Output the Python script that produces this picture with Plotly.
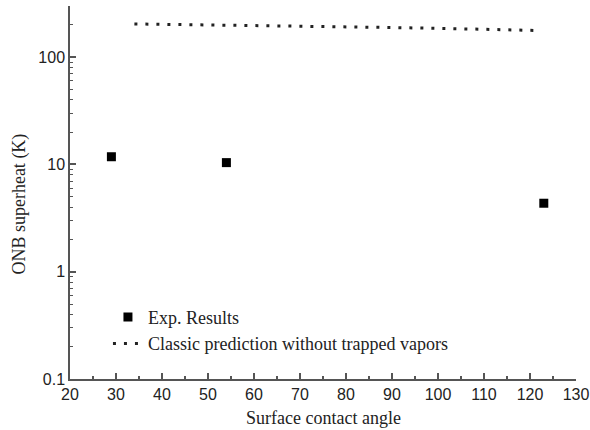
import plotly.graph_objects as go

exp_angle = [29, 54, 123]
exp_superheat = [11.8, 10.4, 4.35]

pred_angle = [34, 50, 70, 90, 110, 122]
pred_superheat = [204, 200, 195, 189, 182, 177]

x_ticks = [20, 30, 40, 50, 60, 70, 80, 90, 100, 110, 120, 130]
y_ticks = [0.1, 1, 10, 100]
y_tick_text = ["0.1", "1", "10", "100"]
y_minor = [m * 10 ** e for e in (-1, 0, 1, 2) for m in range(2, 10) if m * 10 ** e < 300]

axis_col = "#555555"
txt_col = "#222222"
tick_font = dict(family="Liberation Sans, Arial, sans-serif", size=16, color=txt_col)
serif = "Liberation Serif, Times New Roman, serif"

fig = go.Figure()
fig.add_trace(go.Scatter(
    x=exp_angle, y=exp_superheat, mode="markers", name="Exp. Results",
    marker=dict(symbol="square", size=9, color="black"),
))
fig.add_trace(go.Scatter(
    x=pred_angle, y=pred_superheat, mode="lines",
    name="Classic prediction without trapped vapors",
    line=dict(color="#222222", width=3, dash="3px,8px"),
))

fig.update_layout(
    width=590, height=430,
    margin=dict(l=70, r=14, t=6, b=51),
    paper_bgcolor="white", plot_bgcolor="white",
    showlegend=True,
    legend=dict(x=0.075, y=0.215, xanchor="left", yanchor="top",
                font=dict(family=serif, size=18, color=txt_col),
                bgcolor="rgba(0,0,0,0)", tracegroupgap=4),
    xaxis=dict(
        range=[20, 130], tickvals=x_ticks, showgrid=False, zeroline=False,
        showline=True, linecolor=axis_col, linewidth=1.5,
        ticks="inside", ticklen=6, tickwidth=1.5, tickcolor=axis_col,
        tickfont=tick_font, automargin=False,
        minor=dict(tickvals=[25, 35, 45, 55, 65, 75, 85, 95, 105, 115, 125],
                   ticks="inside", ticklen=3, tickwidth=1.5, tickcolor=axis_col),
    ),
    yaxis=dict(
        type="log", range=[-1, 2.477], tickvals=y_ticks, ticktext=y_tick_text,
        showgrid=False, zeroline=False,
        showline=True, linecolor=axis_col, linewidth=1.5,
        ticks="inside", ticklen=6, tickwidth=1.5, tickcolor=axis_col,
        tickfont=tick_font, automargin=False,
        minor=dict(tickvals=y_minor, ticks="inside", ticklen=3, tickwidth=1.2, tickcolor=axis_col),
    ),
    annotations=[
        dict(text="Surface contact angle", xref="paper", yref="paper",
             x=0.5, y=-0.105, xanchor="center", yanchor="middle", showarrow=False,
             font=dict(family=serif, size=18, color=txt_col)),
        dict(text="ONB superheat (K)", xref="paper", yref="paper",
             x=-0.099, y=0.47, xanchor="center", yanchor="middle", showarrow=False,
             textangle=-90, font=dict(family=serif, size=18, color=txt_col)),
    ],
)

fig.write_html("out.html", config={"displayModeBar": False},
               post_script="document.body.style.margin='0';")
